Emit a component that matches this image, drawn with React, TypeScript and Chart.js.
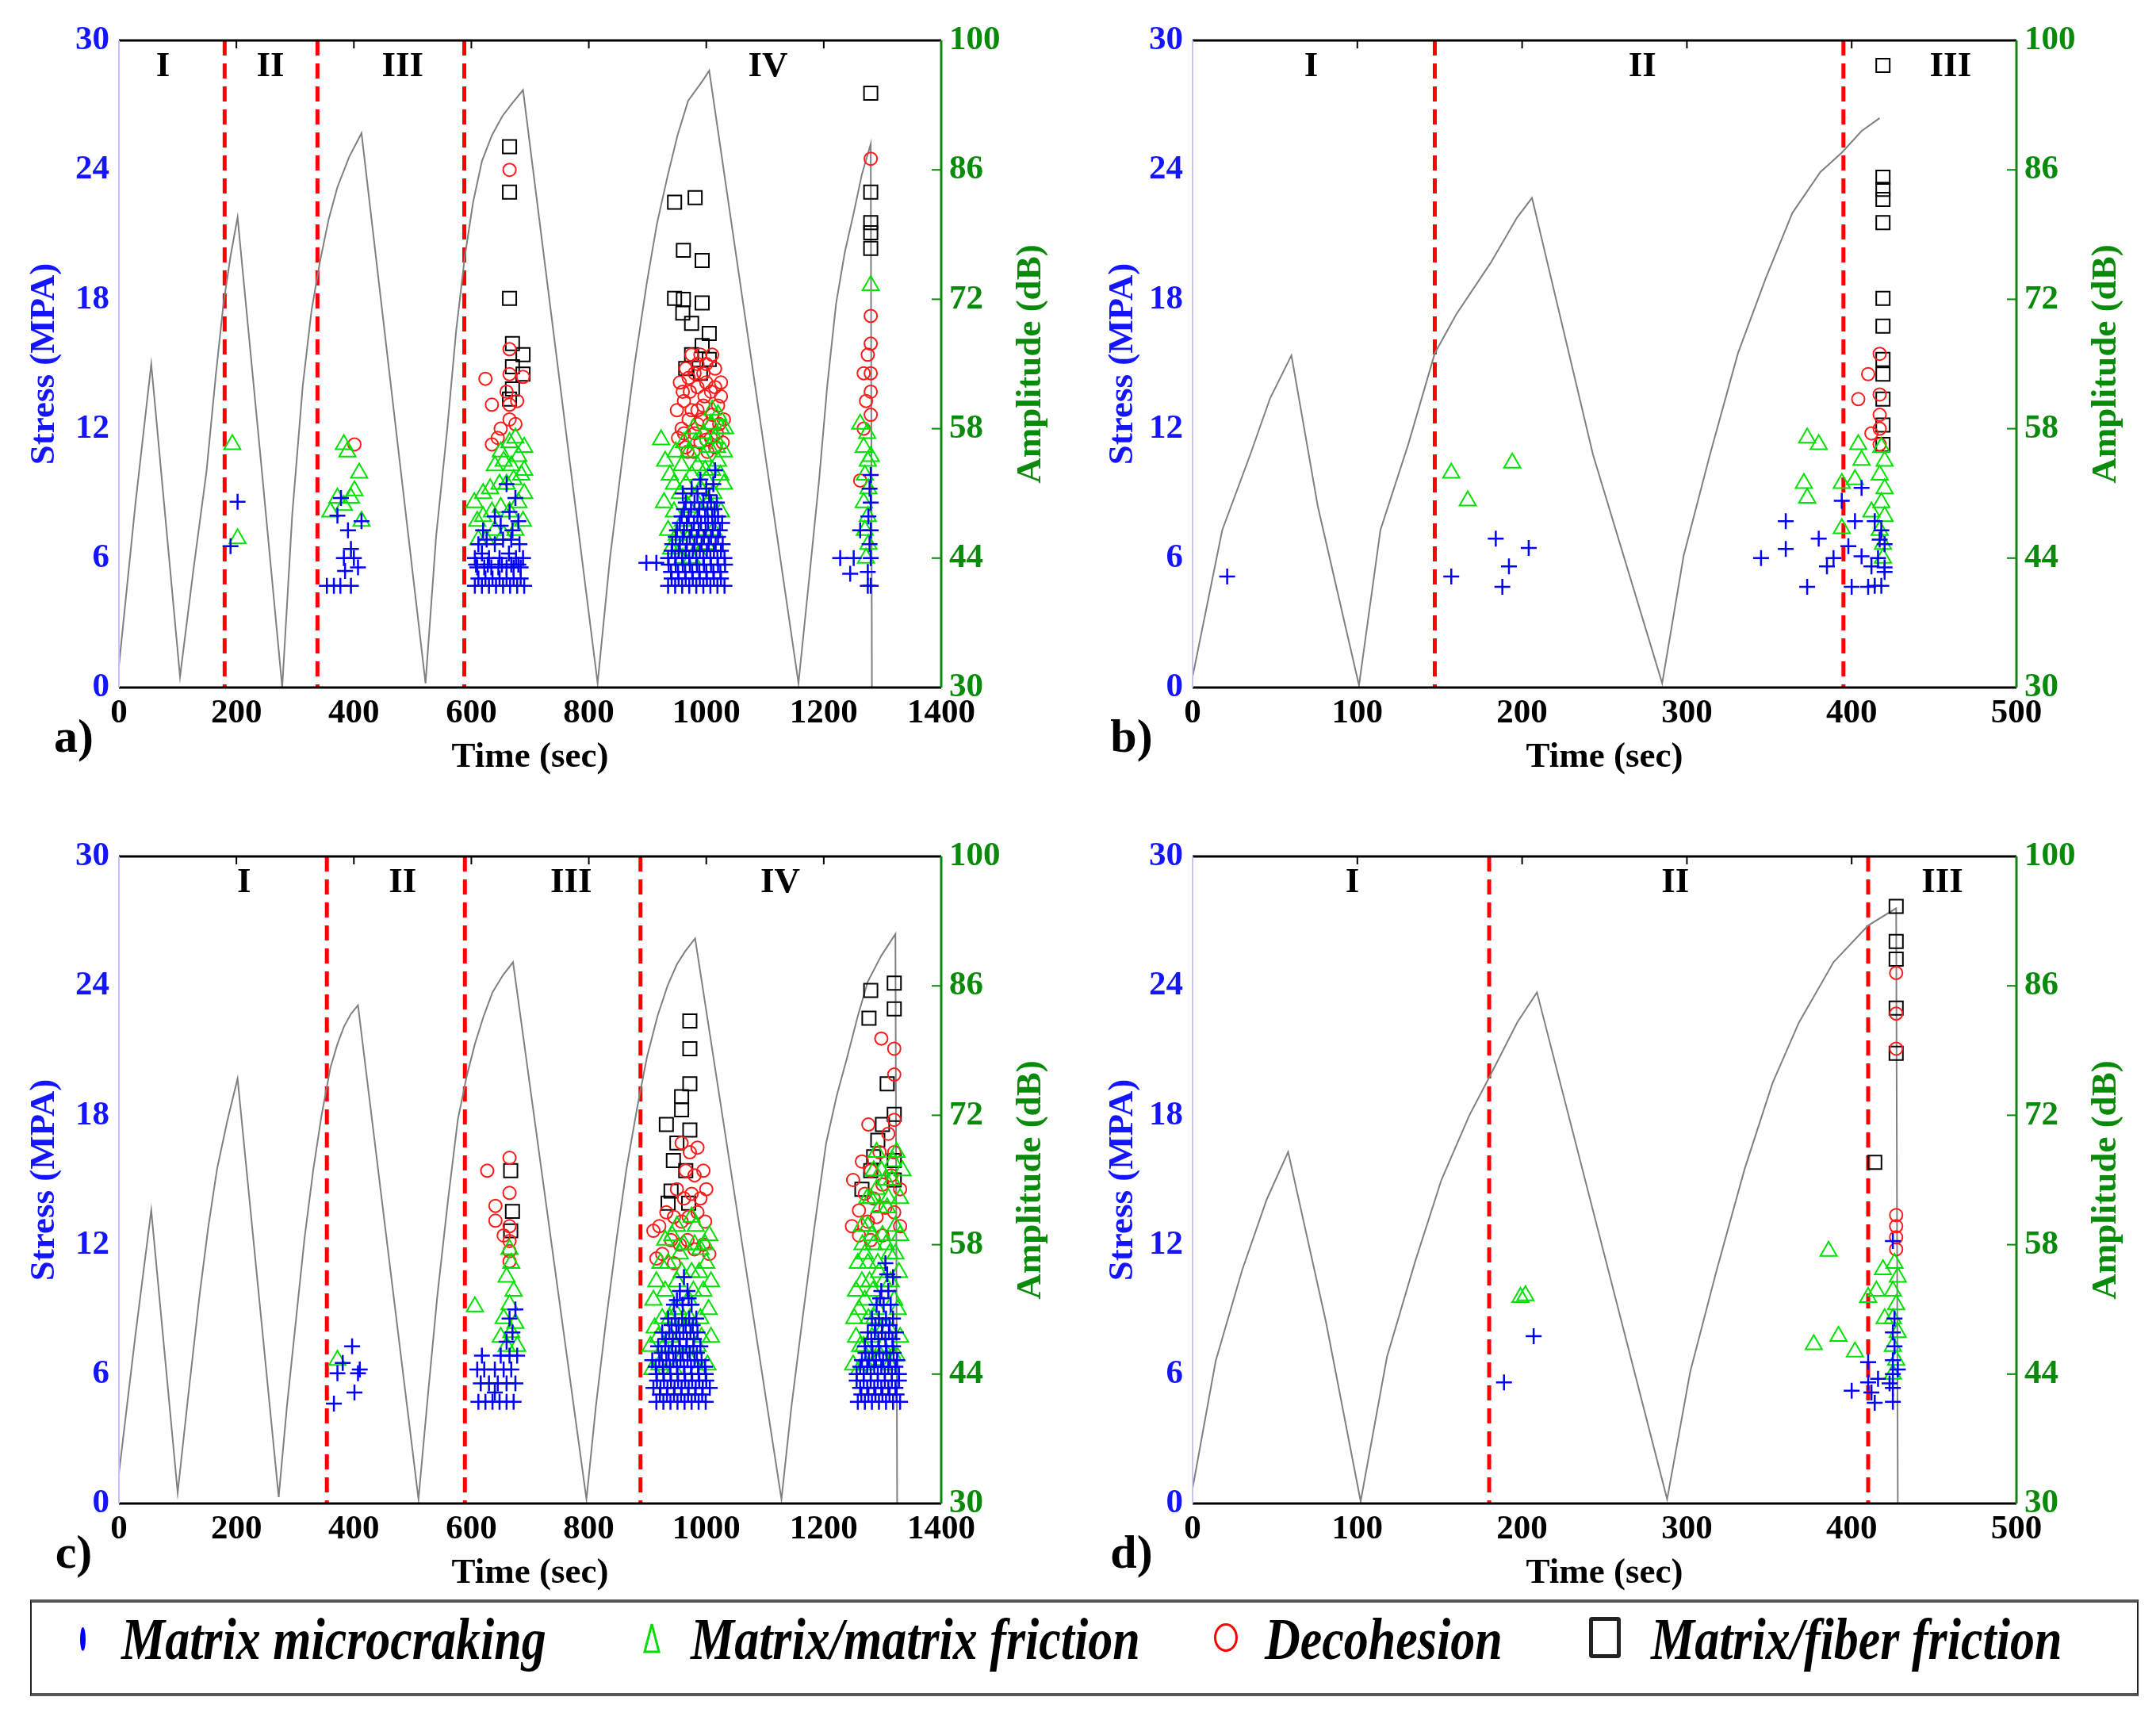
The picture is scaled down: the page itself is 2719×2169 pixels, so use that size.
import React, { useEffect, useRef } from 'react';
import { Chart, registerables } from 'chart.js';

Chart.register(...registerables);

type Pt = [number, number];

const FONT = "'Liberation Serif', 'Times New Roman', serif";
const BLUE = '#1414ff';
const GREEN = '#0a8a0a';

// ---------- panel a ----------
const stressA: Pt[] = [
  [0, 1], [28, 8.5], [55, 15], [104, 0.5], [127, 5.5], [149, 10], [165, 14.5], [178, 17.8], [190, 20], [202, 21.8],
  [240, 11], [278, 0], [295, 8], [313, 14], [328, 17.5], [342, 19.7], [357, 21.7], [372, 23.2], [392, 24.6], [413, 25.7],
  [522, 0.2], [540, 7], [559, 12], [574, 16.5], [589, 20], [603, 22.5], [618, 24.4], [635, 25.6], [653, 26.5], [670, 27.1], [688, 27.7],
  [815, 0.2], [836, 6], [858, 10.8], [878, 15], [899, 18.8], [916, 21.5], [934, 23.7], [951, 25.6], [969, 27.2], [993, 28.1], [1005, 28.6],
  [1157, 0.2], [1175, 5], [1192, 9.6], [1206, 14], [1221, 17.8], [1236, 20.2], [1251, 22], [1265, 23.8], [1280, 25.2], [1282, 0],
];
const crackA: Pt[] = [
  [190, 45.3], [202, 50.1],
  [354, 41], [366, 41], [377, 41], [395, 41], [407, 43], [383, 44], [395, 45], [372, 48.6], [413, 48],
  [390, 47], [385, 42.6], [400, 44], [378, 50.5],
  [606, 41], [618, 41], [630, 41], [642, 41], [654, 41], [666, 41], [678, 41], [690, 41],
  [612, 41.8], [624, 41.8], [636, 41.8], [648, 41.8], [660, 41.8], [672, 41.8], [684, 41.8],
  [610, 43], [622, 43], [634, 43], [646, 43], [660, 43], [672, 43], [684, 43], [608, 43.3], [628, 43.3], [652, 43.3], [668, 43.3], [680, 43.3],
  [606, 44], [618, 44.5], [630, 44], [648, 44], [664, 44.5], [676, 44], [688, 44],
  [612, 45.5], [626, 46], [640, 45.5], [654, 46], [668, 46], [682, 45.5],
  [620, 47], [650, 47.5], [670, 47], [680, 48], [665, 49], [675, 50.5], [660, 52], [640, 48.5],
  [898, 43.5], [915, 43.5], [935, 41], [947, 41], [959, 41], [971, 41], [983, 41], [995, 41], [1007, 41], [1019, 41], [1031, 41],
  [941, 41.8], [953, 41.8], [965, 41.8], [977, 41.8], [989, 41.8], [1001, 41.8], [1013, 41.8], [1025, 41.8],
  [940, 42.5], [952, 42.5], [964, 42.5], [976, 42.5], [988, 42.5], [1000, 42.5], [1012, 42.5], [1024, 42.5],
  [936, 43.3], [948, 43.3], [960, 43.3], [972, 43.3], [984, 43.3], [996, 43.3], [1008, 43.3], [1020, 43.3], [1032, 43.3],
  [935, 44], [947, 44], [959, 44], [971, 44], [983, 44], [995, 44], [1007, 44], [1019, 44], [1031, 44],
  [941, 44.8], [953, 44.8], [965, 44.8], [977, 44.8], [989, 44.8], [1001, 44.8], [1013, 44.8], [1025, 44.8],
  [942, 45.5], [955, 45.5], [967, 45.5], [980, 45.5], [992, 45.5], [1004, 45.5], [1016, 45.5], [1028, 45.5],
  [948, 46.3], [960, 46.3], [972, 46.3], [984, 46.3], [996, 46.3], [1008, 46.3], [1020, 46.3],
  [950, 47], [962, 47], [975, 47], [987, 47], [999, 47], [1011, 47], [1023, 47],
  [955, 47.8], [967, 47.8], [979, 47.8], [991, 47.8], [1003, 47.8], [1015, 47.8], [1027, 47.8],
  [958, 48.5], [970, 48.5], [985, 48.5], [998, 48.5], [1010, 48.5], [1020, 48.5],
  [962, 49.3], [974, 49.3], [988, 49.3], [1002, 49.3], [1014, 49.3],
  [965, 50], [980, 50], [995, 50], [1008, 50], [1018, 50], [985, 51], [1005, 50.8], [990, 52.5],
  [975, 51.5], [1000, 51.5], [1012, 52], [1015, 53.5], [960, 51],
  [1228, 44], [1251, 44], [1245, 42.3], [1262, 47], [1275, 41], [1280, 41], [1275, 42.5], [1280, 44],
  [1278, 45.5], [1280, 47], [1276, 48.5], [1280, 50], [1278, 51.5], [1280, 53],
];
const triA: Pt[] = [
  [193, 56.3], [202, 46.1],
  [383, 56.3], [389, 55.5], [409, 53.2], [372, 50.5], [401, 51.3], [383, 49.7], [413, 48], [360, 49], [395, 50.5],
  [612, 46], [625, 46], [640, 47], [655, 46.5], [675, 47], [688, 48], [620, 48.5], [635, 49], [650, 49.5],
  [665, 49], [680, 50], [690, 51], [620, 51], [632, 51.5], [648, 52], [660, 52], [672, 52.5], [685, 53],
  [640, 54], [655, 54.5], [668, 54], [680, 55], [690, 56], [665, 56.5], [675, 57], [650, 55.5], [690, 53.5], [610, 48], [605, 50],
  [923, 56.8], [930, 54.5], [935, 47], [945, 49], [955, 51], [965, 52], [975, 53], [985, 54], [995, 55], [1005, 56],
  [1015, 57], [1025, 58], [940, 45], [950, 46.5], [960, 48], [970, 49.5], [980, 50.5], [990, 51.5], [1000, 52.5],
  [1010, 53.5], [1020, 54.5], [1030, 55.5], [945, 52], [958, 54], [970, 55.5], [982, 56.5], [995, 57.5], [1008, 58.5],
  [1020, 59.5], [1030, 52], [1025, 49], [1012, 47], [1000, 45.5], [988, 44.5], [975, 44], [960, 44],
  [928, 50], [938, 53], [948, 55.5], [952, 44.5], [962, 56.5], [968, 46], [978, 58], [984, 47], [992, 49], [998, 53.5],
  [1004, 50], [1012, 51], [1018, 56], [1024, 53], [1032, 58], [1010, 60],
  [1280, 73.5], [1272, 44], [1276, 45.5], [1270, 47], [1275, 48.5], [1268, 50], [1276, 51.5], [1270, 53],
  [1275, 54.5], [1268, 56], [1274, 57.5], [1262, 58.5], [1280, 55],
];
const circA: Pt[] = [
  [401, 56.3],
  [665, 86], [665, 66.6], [624, 63.4], [665, 63.9], [688, 63.6], [635, 60.6], [665, 60.6], [665, 59], [635, 56.3],
  [650, 58], [660, 62], [678, 61], [645, 57], [675, 58.5],
  [955, 63], [965, 64.5], [975, 66], [985, 65], [995, 64], [1010, 66], [1025, 63], [950, 60], [962, 61], [972, 62],
  [985, 62.5], [997, 61.5], [1008, 62], [1020, 60.5], [958, 58], [970, 59], [980, 57.5], [992, 59], [1005, 58.5],
  [1018, 57.5], [1030, 59], [965, 56], [978, 55.5], [990, 56.5], [1002, 55.5], [1015, 56], [985, 60], [1000, 63],
  [960, 62], [970, 63.5], [980, 64], [990, 66], [1000, 65], [1015, 64.5], [1025, 61.5], [952, 57], [962, 57.5],
  [975, 60], [995, 60.5], [1010, 59.5], [1022, 58.5], [1028, 56.5], [968, 55.5], [1008, 57], [985, 58.5], [1000, 56.8], [1015, 62.5],
  [1280, 87.2], [1280, 70.2], [1280, 67.2], [1280, 64], [1268, 64], [1280, 62], [1272, 61], [1280, 59.5],
  [1268, 58], [1262, 52.4], [1275, 66],
];
const sqA: Pt[] = [
  [665, 88.5], [665, 83.6], [665, 72.1], [670, 67.2], [670, 64.7], [688, 63.9], [670, 62.3], [665, 61.2], [688, 66],
  [946, 82.5], [981, 83], [961, 77.3], [993, 76.2], [946, 72.1], [961, 72], [993, 71.6], [1005, 68.3], [975, 69.4],
  [993, 67], [1005, 65.5], [975, 66], [965, 64.5], [990, 64], [960, 70.5],
  [1280, 94.3], [1280, 83.6], [1280, 80.3], [1280, 79.2], [1280, 77.5],
];
const stagesA = [180, 338, 588];
const stageAtA = [75, 258, 483, 1105];

// ---------- panel b ----------
const stressB: Pt[] = [
  [0, 0.5], [18, 7.3], [35, 10.8], [47, 13.4], [60, 15.4], [76, 8.4], [101, 0.1], [114, 7.3], [131, 11.3],
  [147, 15.5], [160, 17.3], [181, 19.7], [197, 21.8], [206, 22.7], [243, 10.8], [285, 0.2], [298, 6.1],
  [314, 10.8], [331, 15.5], [348, 19], [364, 22], [381, 23.9], [394, 24.8], [406, 25.8], [417, 26.4],
];
const crackB: Pt[] = [
  [21, 42], [157, 42], [184, 46.1], [204, 45.1], [192, 43.1], [188, 40.9], [345, 44], [360, 48], [360, 45],
  [373, 40.9], [380, 46.1], [389, 44], [385, 43.1], [394, 50.2], [398, 45.3], [406, 51.6], [402, 48], [400, 40.9],
  [410, 40.9], [406, 44.2], [414, 41], [418, 41], [420, 42.5], [416, 44], [420, 45.5], [418, 47], [414, 48],
  [420, 43], [412, 43.1], [417, 46],
];
const triB: Pt[] = [
  [157, 53.2], [167, 50.2], [194, 54.3], [373, 57], [380, 56.3], [371, 52.1], [373, 50.5], [394, 52.1], [394, 47.2],
  [404, 56.3], [406, 54.6], [402, 52.5], [419, 44], [419, 45.5], [417, 47], [420, 48.5], [418, 50], [420, 51.5],
  [417, 53], [420, 54.5], [418, 56], [412, 49],
];
const circB: Pt[] = [[417, 66.1], [410, 63.9], [404, 61.2], [417, 61.7], [417, 59.5], [417, 58], [417, 56.3], [412, 57.5]];
const sqB: Pt[] = [
  [419, 97.3], [419, 85.2], [419, 83.9], [419, 82.8], [419, 80.3], [419, 72.1], [419, 69.1], [419, 65.5],
  [419, 63.9], [419, 61.2], [419, 58.4], [419, 56.3],
];
const stagesB = [147, 395];
const stageAtB = [72, 273, 460];

// ---------- panel c ----------
const stressC: Pt[] = [
  [0, 1.4], [28, 7.8], [55, 13.6], [100, 0.5], [118, 5], [137, 9.6], [152, 12.8], [167, 15.5], [185, 17.8], [202, 19.7],
  [272, 0.3], [286, 4.5], [301, 8.4], [316, 12.3], [331, 15.5], [345, 18], [360, 20.2], [372, 21.3], [383, 22.1], [395, 22.7], [407, 23.1],
  [510, 0.2], [526, 5], [542, 9.6], [560, 14], [577, 17.8], [592, 19.8], [606, 21.3], [621, 22.6], [636, 23.7], [654, 24.5], [671, 25.1],
  [796, 0.2], [812, 4.5], [829, 8.4], [847, 12.2], [864, 15.5], [882, 18.3], [899, 20.7], [917, 22.6], [934, 24], [950, 25], [964, 25.6], [981, 26.2],
  [1128, 0.2], [1145, 4.5], [1163, 8.4], [1184, 12.8], [1204, 16.7], [1222, 18.9], [1240, 20.7], [1258, 22.6], [1275, 24.2], [1298, 25.4], [1322, 26.4], [1325, 0],
];
const crackC: Pt[] = [
  [372, 44.1], [366, 40.8], [407, 44.1], [401, 42], [397, 47], [381, 45.2], [410, 44.5],
  [612, 41], [624, 41], [636, 41], [648, 41], [660, 41], [672, 41], [616, 43], [630, 43], [645, 43], [660, 43],
  [675, 43], [610, 44.5], [622, 44.5], [640, 44.5], [655, 44.5], [668, 44.5], [618, 46], [650, 46], [665, 46],
  [678, 46], [660, 47.5], [670, 48.5], [665, 50], [675, 51], [640, 42],
  [915, 41], [927, 41], [939, 41], [951, 41], [963, 41], [975, 41], [987, 41], [999, 41],
  [921, 41.8], [933, 41.8], [945, 41.8], [957, 41.8], [969, 41.8], [981, 41.8], [993, 41.8],
  [910, 42.5], [922, 42.5], [934, 42.5], [946, 42.5], [958, 42.5], [970, 42.5], [982, 42.5], [994, 42.5], [1006, 42.5],
  [916, 43.3], [928, 43.3], [940, 43.3], [952, 43.3], [964, 43.3], [976, 43.3], [988, 43.3], [1000, 43.3],
  [915, 44], [927, 44], [939, 44], [951, 44], [963, 44], [975, 44], [987, 44], [999, 44],
  [914, 44.8], [926, 44.8], [938, 44.8], [950, 44.8], [962, 44.8], [974, 44.8], [986, 44.8], [998, 44.8],
  [908, 45.5], [920, 45.5], [932, 45.5], [944, 45.5], [956, 45.5], [968, 45.5], [980, 45.5], [992, 45.5],
  [924, 46.3], [936, 46.3], [948, 46.3], [960, 46.3], [972, 46.3], [984, 46.3],
  [918, 47], [930, 47], [942, 47], [954, 47], [966, 47], [978, 47], [990, 47],
  [931, 47.8], [943, 47.8], [955, 47.8], [967, 47.8], [979, 47.8],
  [925, 48.5], [937, 48.5], [949, 48.5], [961, 48.5], [973, 48.5], [985, 48.5],
  [941, 49.3], [953, 49.3], [965, 49.3], [977, 49.3],
  [935, 50], [947, 50], [959, 50], [971, 50], [983, 50], [945, 51.5], [960, 51.5], [975, 51.5], [950, 52], [970, 52.2],
  [955, 53], [968, 53], [962, 54.5],
  [1258, 41], [1270, 41], [1282, 41], [1294, 41], [1306, 41], [1318, 41], [1330, 41],
  [1264, 41.8], [1276, 41.8], [1288, 41.8], [1300, 41.8], [1312, 41.8], [1324, 41.8],
  [1262, 42.5], [1274, 42.5], [1286, 42.5], [1298, 42.5], [1310, 42.5], [1322, 42.5],
  [1256, 43.3], [1268, 43.3], [1280, 43.3], [1292, 43.3], [1304, 43.3], [1316, 43.3], [1328, 43.3],
  [1256, 44], [1268, 44], [1280, 44], [1292, 44], [1304, 44], [1316, 44], [1328, 44],
  [1262, 44.8], [1274, 44.8], [1286, 44.8], [1298, 44.8], [1310, 44.8], [1322, 44.8],
  [1265, 45.5], [1277, 45.5], [1289, 45.5], [1301, 45.5], [1313, 45.5], [1325, 45.5],
  [1271, 46.3], [1283, 46.3], [1295, 46.3], [1307, 46.3], [1319, 46.3],
  [1270, 47], [1282, 47], [1294, 47], [1306, 47], [1318, 47],
  [1281, 47.8], [1293, 47.8], [1305, 47.8], [1317, 47.8],
  [1275, 48.5], [1287, 48.5], [1299, 48.5], [1311, 48.5], [1323, 48.5],
  [1288, 49.3], [1300, 49.3], [1312, 49.3],
  [1282, 50], [1294, 50], [1306, 50], [1318, 50], [1290, 51.5], [1302, 51.5], [1314, 51.5], [1296, 52.2],
  [1298, 53], [1310, 53], [1318, 54.5], [1308, 54.8], [1305, 56],
];
const triC: Pt[] = [
  [372, 45.5],
  [606, 51.3], [660, 47], [668, 48.5], [655, 50], [665, 51.5], [672, 53], [660, 54.5], [668, 56], [665, 57.5],
  [675, 49.5], [650, 48], [678, 47],
  [905, 47], [912, 49], [910, 52], [915, 54], [920, 45], [925, 50], [930, 53], [935, 56], [940, 48], [945, 51],
  [950, 54], [955, 57], [960, 46], [965, 49], [970, 52], [975, 55], [980, 58], [985, 47], [990, 50], [995, 53],
  [1000, 56], [1005, 59], [1008, 48], [1002, 45], [950, 60], [975, 61], [990, 57.5], [930, 58.5], [945, 44.5], [985, 44.5],
  [908, 44.5], [918, 48], [922, 56], [928, 47], [938, 50], [942, 59], [948, 47], [952, 51], [958, 55], [962, 58],
  [968, 46], [972, 50], [978, 53], [982, 60], [988, 55], [992, 48], [998, 58], [1004, 51], [1008, 54],
  [1250, 45], [1255, 48], [1260, 51], [1265, 54], [1270, 57], [1275, 60], [1280, 63], [1285, 66], [1290, 68],
  [1260, 44.5], [1268, 47], [1276, 50], [1284, 53], [1292, 56], [1300, 59], [1308, 62], [1316, 65], [1324, 68],
  [1272, 45], [1282, 48], [1292, 51], [1302, 54], [1312, 57], [1322, 60], [1330, 63], [1296, 46], [1310, 49],
  [1320, 52], [1328, 55], [1318, 46], [1330, 48], [1265, 60], [1275, 56], [1285, 58], [1295, 62], [1305, 65], [1255, 53],
  [1252, 50], [1258, 56], [1262, 47], [1266, 58], [1270, 52], [1274, 63], [1278, 54], [1282, 59], [1286, 50],
  [1290, 64], [1294, 55], [1298, 66], [1302, 49], [1306, 58], [1310, 63], [1314, 54], [1318, 67], [1322, 57],
  [1326, 51], [1330, 59], [1334, 66], [1288, 45.5], [1300, 47], [1312, 45], [1324, 46],
];
const circC: Pt[] = [
  [627, 66], [665, 67.4], [665, 63.6], [641, 62.2], [641, 60.6], [665, 60], [665, 58.4], [665, 57.3], [665, 56.2], [655, 59],
  [958, 69], [972, 68], [985, 68.5], [965, 66], [980, 65.5], [995, 66], [950, 64], [962, 63], [975, 63.5], [990, 63],
  [1000, 64], [945, 61], [958, 60.5], [970, 61], [985, 61.5], [998, 60.5], [910, 59.5], [920, 60], [932, 61.5],
  [940, 58.5], [955, 58], [968, 58.5], [980, 57.5], [995, 58], [1005, 57], [925, 57], [915, 56.5], [945, 56],
  [1276, 71], [1298, 80.3], [1320, 79.2], [1320, 76.4], [1320, 71.5], [1250, 65], [1260, 61.7], [1248, 60], [1265, 67],
  [1280, 66], [1295, 68], [1310, 70], [1320, 68], [1270, 63.5], [1285, 63], [1300, 64.5], [1315, 65.5], [1330, 64],
  [1260, 59], [1275, 60.5], [1290, 61], [1305, 62], [1320, 61.5], [1330, 60], [1280, 58.5], [1300, 59],
];
const sqC: Pt[] = [
  [667, 66], [670, 61.6], [667, 59.5],
  [972, 82.2], [972, 79.2], [972, 75.4], [958, 74], [958, 72.6], [932, 71], [972, 70.4], [944, 67.1], [940, 63.8],
  [965, 66], [970, 62.5], [935, 62.5], [950, 69],
  [1280, 85.5], [1277, 82.5], [1320, 86.3], [1320, 83.5], [1308, 75.4], [1320, 72.1], [1292, 69.3], [1320, 67.1],
  [1280, 66], [1320, 65], [1265, 64], [1300, 71], [1285, 67.5],
];
const stagesC = [354, 589, 888];
const stageAtC = [213, 483, 770, 1126];

// ---------- panel d ----------
const stressD: Pt[] = [
  [0, 0.7], [14, 6.6], [30, 10.8], [45, 14.1], [58, 16.3], [81, 8.4], [102, 0.1], [118, 6.8], [135, 11.2],
  [151, 15], [168, 18], [181, 19.9], [197, 22.3], [209, 23.7], [288, 0.2], [302, 6.1], [318, 10.8], [335, 15.5],
  [352, 19.5], [368, 22.3], [389, 25.1], [410, 26.8], [427, 27.6], [428, 0],
];
const crackD: Pt[] = [
  [189, 43.1], [207, 48.1], [400, 42.2], [410, 45.3], [410, 43.1], [414, 40.9], [412, 42], [416, 43.5], [425, 41],
  [425, 42.5], [425, 44], [425, 45.5], [426, 47], [425, 48.5], [426, 50], [428, 44.5], [423, 43], [425, 58.4],
];
const triD: Pt[] = [
  [199, 52.3], [202, 52.5], [386, 57.3], [377, 47.2], [392, 48.1], [402, 46.4], [410, 52.3], [419, 55.3], [415, 53],
  [425, 44], [427, 45.5], [425, 47], [428, 48.5], [425, 50], [427, 51.5], [425, 53], [428, 54.5], [426, 56], [420, 50],
];
const circD: Pt[] = [[427, 87.4], [427, 83], [427, 79.2], [427, 61.2], [427, 60], [427, 58.8], [427, 57.5]];
const sqD: Pt[] = [[427, 94.6], [427, 90.8], [427, 88.9], [427, 83.6], [427, 78.7], [414, 66.9]];
const stagesD = [180, 410];
const stageAtD = [97, 293, 455];

const NUMERALS = ['I', 'II', 'III', 'IV'];
const LEGEND = ['Matrix microcraking', 'Matrix/matrix friction', 'Decohesion', 'Matrix/fiber friction'];

const H = 1000;
const toXY = (pts: Pt[]) => pts.map(([x, y]) => ({ x, y }));

const decorPlugin = {
  id: 'decor',
  beforeDatasetsDraw(chart: any, _args: any, opts: any) {
    const { ctx, chartArea: a, scales } = chart;
    ctx.save();
    ctx.strokeStyle = '#ff0000';
    ctx.lineWidth = 5;
    ctx.setLineDash([19, 10]);
    opts.stages.forEach((t: number) => {
      const x = scales.x.getPixelForValue(t);
      ctx.beginPath();
      ctx.moveTo(x, a.top);
      ctx.lineTo(x, a.bottom);
      ctx.stroke();
    });
    ctx.restore();
  },
  afterDraw(chart: any, _args: any, opts: any) {
    const { ctx, chartArea: a, scales } = chart;
    const line = (x1: number, y1: number, x2: number, y2: number) => {
      ctx.beginPath();
      ctx.moveTo(x1, y1);
      ctx.lineTo(x2, y2);
      ctx.stroke();
    };
    ctx.save();
    ctx.lineWidth = 3;
    ctx.strokeStyle = '#000';
    line(a.left, a.top, a.right, a.top);
    line(a.left, a.bottom, a.right, a.bottom);
    ctx.strokeStyle = '#c4c4ff';
    ctx.lineWidth = 2;
    line(a.left, a.top, a.left, a.bottom);
    ctx.strokeStyle = GREEN;
    ctx.lineWidth = 3;
    line(a.right, a.top, a.right, a.bottom);

    ctx.lineWidth = 2;
    ctx.strokeStyle = '#000';
    scales.x.ticks.forEach((tk: any) => {
      const x = scales.x.getPixelForValue(tk.value);
      if (x > a.left + 3 && x < a.right - 3) line(x, a.top, x, a.top + 10);
    });
    ctx.strokeStyle = GREEN;
    scales.y2.ticks.forEach((tk: any) => {
      const y = scales.y2.getPixelForValue(tk.value);
      if (y > a.top + 3 && y < a.bottom - 3) line(a.right - 12, y, a.right, y);
    });

    ctx.textAlign = 'center';
    ctx.textBaseline = 'middle';
    ctx.fillStyle = '#000';
    ctx.font = `bold 45px ${FONT}`;
    opts.stageAt.forEach((t: number, i: number) => {
      ctx.fillText(NUMERALS[i], scales.x.getPixelForValue(t), a.top + 33);
    });
    ctx.fillText('Time (sec)', (a.left + a.right) / 2, a.bottom + 88);

    const midY = (a.top + a.bottom) / 2;
    ctx.save();
    ctx.translate(56, midY);
    ctx.rotate(-Math.PI / 2);
    ctx.fillStyle = BLUE;
    ctx.fillText('Stress (MPA)', 0, 0);
    ctx.restore();
    ctx.save();
    ctx.translate(a.right + 113, midY);
    ctx.rotate(-Math.PI / 2);
    ctx.fillStyle = GREEN;
    ctx.fillText('Amplitude (dB)', 0, 0);
    ctx.restore();

    ctx.font = `bold 60px ${FONT}`;
    ctx.fillStyle = '#000';
    ctx.fillText(opts.letter, opts.letterX, a.bottom + 65);
    ctx.restore();
  },
};

type PanelProps = {
  left: number;
  top: number;
  width: number;
  plotLeft: number;
  plotRight: number;
  xMax: number;
  xStep: number;
  stress: Pt[];
  crack: Pt[];
  tri: Pt[];
  circ: Pt[];
  sq: Pt[];
  stages: number[];
  stageAt: number[];
  letter: string;
  letterX: number;
};

const Panel = (p: PanelProps) => {
  const chartRef = useRef<HTMLCanvasElement>(null);

  useEffect(() => {
    const tickFont = { family: FONT, size: 43, weight: 'bold' as const };
    const plain = (v: any) => String(Math.round(Number(v)));
    const marker = (pts: Pt[], style: string, color: string, radius: number, width: number, order: number) => ({
      data: toXY(pts),
      yAxisID: 'y2',
      pointStyle: style,
      pointRadius: radius,
      borderColor: color,
      backgroundColor: 'rgba(0,0,0,0)',
      pointBorderWidth: width,
      showLine: false,
      order,
    });

    const chart = new Chart(chartRef.current as HTMLCanvasElement, {
      type: 'scatter',
      data: {
        datasets: [
          marker(p.crack, 'cross', '#0000ff', 10, 2.5, 1),
          marker(p.tri, 'triangle', '#00e000', 12, 2, 2),
          marker(p.circ, 'circle', '#ff1a1a', 8, 2, 3),
          marker(p.sq, 'rect', '#000000', 12, 2, 4),
          {
            data: toXY(p.stress),
            yAxisID: 'y',
            showLine: true,
            borderColor: '#808080',
            borderWidth: 2,
            pointRadius: 0,
            tension: 0,
            order: 5,
          },
        ] as any,
      },
      options: {
        animation: false,
        responsive: false,
        devicePixelRatio: 1,
        events: [],
        layout: { padding: { top: 51, left: 0, right: 0, bottom: 0 } },
        scales: {
          x: {
            type: 'linear',
            position: 'bottom',
            min: 0,
            max: p.xMax,
            grid: { display: false, drawTicks: false },
            border: { display: false },
            ticks: { stepSize: p.xStep, autoSkip: false, maxRotation: 0, padding: 7, color: '#000', font: tickFont, callback: plain },
            afterFit: (s: any) => {
              s.height = H - 867;
            },
          },
          y: {
            position: 'left',
            min: 0,
            max: 30,
            grid: { display: false, drawTicks: false },
            border: { display: false },
            ticks: { stepSize: 6, padding: 12, color: BLUE, font: tickFont, callback: plain },
            afterFit: (s: any) => {
              s.width = p.plotLeft;
            },
          },
          y2: {
            position: 'right',
            min: 30,
            max: 100,
            grid: { display: false, drawTicks: false },
            border: { display: false },
            ticks: { stepSize: 14, padding: 10, color: GREEN, font: tickFont, callback: plain },
            afterFit: (s: any) => {
              s.width = p.width - p.plotRight;
            },
          },
        },
        plugins: {
          legend: { display: false },
          tooltip: { enabled: false },
          decor: { stages: p.stages, stageAt: p.stageAt, letter: p.letter, letterX: p.letterX },
        } as any,
      },
      plugins: [decorPlugin],
    });

    return () => chart.destroy();
  }, []);

  return (
    <canvas
      ref={chartRef}
      width={p.width}
      height={H}
      style={{ position: 'absolute', left: p.left, top: p.top, width: p.width, height: H }}
    />
  );
};

const textStyle = (left: number): React.CSSProperties => ({
  position: 'absolute',
  left,
  top: 2092 - 52,
  fontFamily: FONT,
  fontStyle: 'italic',
  fontWeight: 'bold',
  fontSize: 62,
  lineHeight: '62px',
  whiteSpace: 'nowrap',
  color: '#000',
  transform: 'scaleY(1.2)',
  transformOrigin: '0 52px',
  zIndex: 3,
});

const App = () => {
  return (
    <div style={{ position: 'absolute', left: 0, top: 0, width: 2719, height: 2169, background: '#fff', overflow: 'hidden' }}>
      <Panel left={0} top={0} width={1360} plotLeft={150} plotRight={1187} xMax={1400} xStep={200}
        stress={stressA} crack={crackA} tri={triA} circ={circA} sq={sqA} stages={stagesA} stageAt={stageAtA} letter="a)" letterX={93} />
      <Panel left={1360} top={0} width={1359} plotLeft={144} plotRight={1183} xMax={500} xStep={100}
        stress={stressB} crack={crackB} tri={triB} circ={circB} sq={sqB} stages={stagesB} stageAt={stageAtB} letter="b)" letterX={67} />
      <Panel left={0} top={1029} width={1360} plotLeft={150} plotRight={1187} xMax={1400} xStep={200}
        stress={stressC} crack={crackC} tri={triC} circ={circC} sq={sqC} stages={stagesC} stageAt={stageAtC} letter="c)" letterX={93} />
      <Panel left={1360} top={1029} width={1359} plotLeft={144} plotRight={1183} xMax={500} xStep={100}
        stress={stressD} crack={crackD} tri={triD} circ={circD} sq={sqD} stages={stagesD} stageAt={stageAtD} letter="d)" letterX={67} />

      <div style={{
        position: 'absolute', left: 38, top: 2017, width: 2655, height: 114, background: '#fff', zIndex: 2,
        borderTop: '4px solid #555', borderBottom: '4px solid #555', borderLeft: '2px solid #222', borderRight: '2px solid #222',
      }} />
      <div style={{ position: 'absolute', zIndex: 3, left: 101, top: 2052, width: 7, height: 30, borderRadius: '50%', background: '#0000ff' }} />
      <svg style={{ position: 'absolute', zIndex: 3, left: 811, top: 2046 }} width={22} height={40}>
        <polygon points="11,2 20,37 2,37" fill="none" stroke="#00dd00" strokeWidth={3} />
      </svg>
      <div style={{ position: 'absolute', zIndex: 3, left: 1531, top: 2047, width: 24, height: 30, borderRadius: '50%', border: '3px solid #ff0000' }} />
      <div style={{ position: 'absolute', zIndex: 3, left: 2004, top: 2039, width: 30, height: 42, borderRadius: 4, border: '5px solid #222' }} />
      <span style={textStyle(153)}>{LEGEND[0]}</span>
      <span style={textStyle(871)}>{LEGEND[1]}</span>
      <span style={textStyle(1595)}>{LEGEND[2]}</span>
      <span style={textStyle(2082)}>{LEGEND[3]}</span>
    </div>
  );
};

export default App;
